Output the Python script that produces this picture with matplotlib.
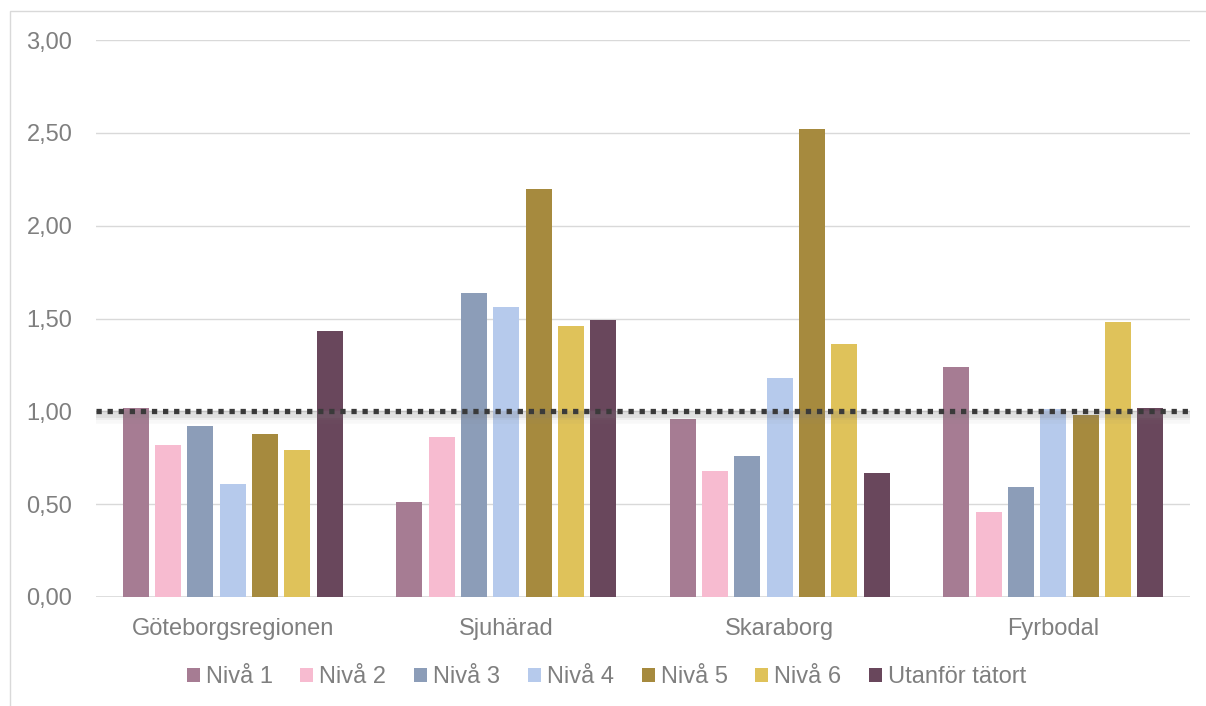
import matplotlib.pyplot as plt
from matplotlib.patches import Rectangle
import numpy as np

plt.rcParams['font.family'] = ['Liberation Sans', 'DejaVu Sans']

regioner = ['Göteborgsregionen', 'Sjuhärad', 'Skaraborg', 'Fyrbodal']
serier = ['Nivå 1', 'Nivå 2', 'Nivå 3', 'Nivå 4', 'Nivå 5', 'Nivå 6', 'Utanför tätort']
niva1 = [1.02, 0.51, 0.96, 1.24]
niva2 = [0.82, 0.86, 0.68, 0.46]
niva3 = [0.92, 1.64, 0.76, 0.59]
niva4 = [0.61, 1.56, 1.18, 1.01]
niva5 = [0.88, 2.20, 2.52, 0.98]
niva6 = [0.79, 1.46, 1.36, 1.48]
utanfor = [1.43, 1.49, 0.67, 1.02]
referens = 1.00

farger = ['#A67C93', '#F7BBD0', '#8C9DB8', '#B6CAEC', '#A68A3E', '#DFC25A', '#69475C']
varden = [niva1, niva2, niva3, niva4, niva5, niva6, utanfor]

fig = plt.figure(figsize=(12.06, 7.06), dpi=100)
fig.patches.append(Rectangle((10 / 1206, -0.1), 1.2, 1.1 - 11 / 706, transform=fig.transFigure,
                             fill=False, edgecolor='#d9d9d9', linewidth=1))
ax = fig.add_axes([96 / 1206, 1 - 597 / 706, 1094 / 1206, 557 / 706])

x = np.arange(len(regioner))
steg = 0.118
bredd = 0.095
for i, (namn, v) in enumerate(zip(serier, varden)):
    ax.bar(x + (i - 3) * steg, v, bredd, color=farger[i], label=namn, zorder=3)

# referenslinje med skugga
for k, a in enumerate([0.12, 0.08, 0.05]):
    ax.axhline(referens - 0.014 - k * 0.008, color='#808080', linewidth=5 + k * 2, alpha=a, zorder=4)
ax.axhline(referens, color='#3a3a3a', linewidth=3.8, linestyle=(0, (1, 1.1)),
           dash_capstyle='butt', zorder=5)

ax.set_xlim(-0.5, 3.5)
ax.set_ylim(0, 3)
ax.set_yticks(np.arange(0, 3.01, 0.5))
ax.set_yticklabels([f'{t:.2f}'.replace('.', ',') for t in np.arange(0, 3.01, 0.5)])
ax.set_xticks(x)
ax.set_xticklabels(regioner)
ax.tick_params(axis='both', length=0, labelsize=17, colors='#7f7f7f')
ax.tick_params(axis='y', pad=17)
ax.tick_params(axis='x', pad=15)
ax.grid(axis='y', color='#d9d9d9', linewidth=1, zorder=0)
for s in ax.spines.values():
    s.set_visible(False)
ax.axhline(0, color='#d9d9d9', linewidth=1.2, zorder=2)

leg = fig.legend(loc='center', bbox_to_anchor=(0.503, 1 - 677 / 706), ncol=7, frameon=False,
                 fontsize=17, handlelength=0.55, handleheight=0.55, handletextpad=0.25,
                 columnspacing=1.18)
for t in leg.get_texts():
    t.set_color('#7f7f7f')

plt.savefig('out.png', dpi=100)
plt.close()
